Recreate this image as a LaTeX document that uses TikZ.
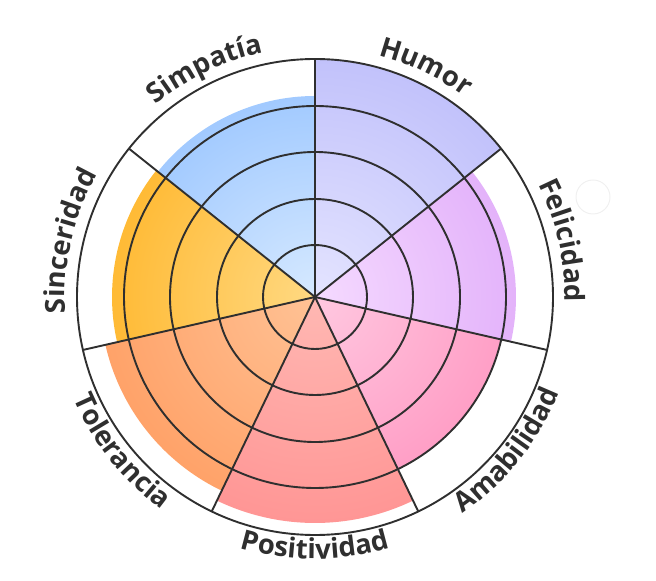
\documentclass[tikz,border=0pt]{standalone}
\usepackage{fontspec}
\setmainfont{Open Sans}
\usetikzlibrary{decorations.text}
\definecolor{ln}{HTML}{2F2F2F}
\definecolor{lbltext}{HTML}{2F2F2F}
\definecolor{hin}{HTML}{E4E4FF}\definecolor{hout}{HTML}{AAAAF8}
\definecolor{fin}{HTML}{F5DAFF}\definecolor{fout}{HTML}{D797F7}
\definecolor{ain}{HTML}{FFC8E0}\definecolor{aout}{HTML}{FF82B4}
\definecolor{pin}{HTML}{FFB8B3}\definecolor{pout}{HTML}{FF7E80}
\definecolor{tin}{HTML}{FFC295}\definecolor{tout}{HTML}{FF8C4A}
\definecolor{sin}{HTML}{FFD982}\definecolor{sout}{HTML}{FFA500}
\definecolor{yin}{HTML}{D6E9FF}\definecolor{yout}{HTML}{7DB4FF}
\newcommand{\lblfmt}{\fontsize{27.5}{32}\selectfont\bfseries}
\tikzset{
  ringline/.style={draw=ln, line width=1.9},
  arclabel/.style={decorate, decoration={text along path, text align=center, text color=lbltext, text={|\lblfmt|#1}}},
}
\begin{document}
\begin{tikzpicture}[x=1pt,y=1pt]
\useasboundingbox (0,0) rectangle (656,581);
\begin{scope}[shift={(315,284)}]
  % coloured segments
  \foreach \r/\ci/\co [count=\i from 0] in {238/hin/hout, 201/fin/fout, 191/ain/aout, 226/pin/pout, 215/tin/tout, 203/sin/sout, 201/yin/yout}{
    \pgfmathsetmacro{\aa}{90-\i*360/7}
    \pgfmathsetmacro{\ab}{90-(\i+1)*360/7}
    \begin{scope}
      \clip (0,0) -- (\aa:\r) arc[start angle=\aa, end angle=\ab, radius=\r] -- cycle;
      \shade[inner color=\ci, outer color=\co] (0,0) circle[radius=1.7*\r];
    \end{scope}
  }
  % rings
  \foreach \r in {52,98,145,191,238}
    \draw[ringline] (0,0) circle[radius=\r];
  % spokes
  \foreach \i in {0,...,6}
    \draw[ringline] (0,0) -- ({90-\i*360/7}:238);
  % top labels (clockwise)
  \foreach \m/\t in {64.2857/Humor, 12.8571/Felicidad, 167.1429/Sinceridad, 115.7143/Simpatía}{
    \path[arclabel=\t] ({\m+40}:250) arc[start angle=\m+40, end angle=\m-40, radius=250];
  }
  % bottom labels (counter-clockwise)
  \foreach \m/\t in {-38.5714/Amabilidad, -90/Positividad, -141.4286/Tolerancia}{
    \path[arclabel=\t] ({\m-40}:262) arc[start angle=\m-40, end angle=\m+40, radius=262];
  }
\end{scope}
\draw[black!6, line width=1] (593,384) circle[radius=17];
\end{tikzpicture}
\end{document}
